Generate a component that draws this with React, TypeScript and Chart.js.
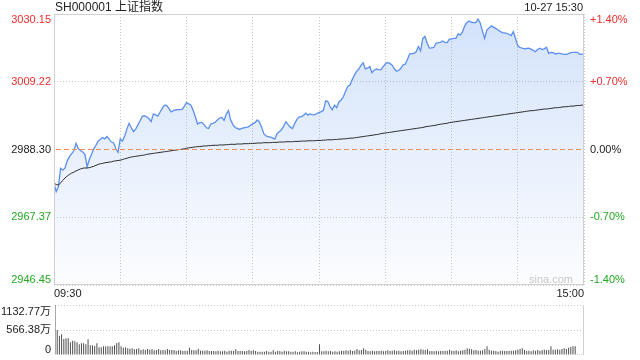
import React, { useEffect, useRef } from 'react';
import { Chart, registerables } from 'chart.js';

Chart.register(...registerables);

const TITLE = 'SH000001 上证指数';
const DATETIME = '10-27 15:30';
const WATERMARK = 'sina.com';
const PREV_CLOSE = 2988.3;
const PRICE_TICKS = [3030.15, 3009.22, 2988.3, 2967.37, 2946.45];
const PRICE_TICK_LABELS = ['3030.15', '3009.22', '2988.30', '2967.37', '2946.45'];
const PCT_TICK_LABELS = ['+1.40%', '+0.70%', '0.00%', '-0.70%', '-1.40%'];
const TIME_TICK_LABELS = ['09:30', '15:00'];
const VOL_TICKS = [1132.77, 566.38, 0];
const VOL_TICK_LABELS = ['1132.77万', '566.38万', '0'];

const PRICE = [
  2977.9, 2975.3, 2976.8, 2982.5, 2981.9, 2982.6, 2984.8, 2986.1, 2987.0, 2987.9,
  2990.2, 2988.6, 2988.0, 2987.5, 2986.8, 2983.0, 2985.2, 2986.8, 2988.5, 2989.6,
  2990.9, 2991.5, 2992.0, 2991.6, 2992.3, 2991.4, 2990.6, 2990.3, 2988.6, 2987.4,
  2991.6, 2990.9, 2992.5, 2994.6, 2996.4, 2995.0, 2993.8, 2994.6, 2995.9, 2997.2,
  2998.6, 2998.7, 2998.4, 2997.8, 2996.9, 2999.3, 2999.0, 2998.6, 2999.8, 3001.0,
  3002.0, 3001.9, 3001.0, 2999.9, 3000.3, 3000.5, 3000.6, 3000.6, 3000.7, 3001.6,
  3002.8, 3002.4, 3002.0, 3000.4, 2998.4, 2996.2, 2996.6, 2996.6, 2996.0, 2995.0,
  2994.8, 2996.2, 2996.4, 2996.7, 2997.4, 2998.0, 2998.2, 2997.3, 2999.2, 3000.3,
  2997.4, 2996.0, 2995.1, 2994.8, 2994.5, 2994.8, 2995.0, 2995.1, 2995.3, 2995.8,
  2996.2, 2996.6, 2997.4, 2996.8, 2995.2, 2993.2, 2992.5, 2992.3, 2992.1, 2991.9,
  2991.5, 2993.2, 2993.8, 2994.4, 2995.5, 2996.9, 2996.0, 2995.2, 2994.8, 2996.3,
  2997.6, 2998.4, 2998.4, 2998.9, 2999.5, 2998.9, 2999.3, 2999.1, 2999.0, 2999.4,
  2999.7, 3000.0, 3000.4, 3003.3, 3003.1, 3001.5, 3000.6, 3002.0, 3001.2, 3003.0,
  3003.6, 3004.5, 3006.2, 3007.8, 3008.2, 3009.8, 3011.2, 3012.4, 3013.1, 3014.3,
  3015.1, 3013.2, 3013.4, 3013.9, 3012.0, 3012.8, 3013.2, 3013.0, 3012.9, 3013.8,
  3014.7, 3015.2, 3014.9, 3014.4, 3013.4, 3012.5, 3012.7, 3013.3, 3014.4, 3014.6,
  3016.0, 3017.8, 3017.9, 3018.0, 3018.5, 3020.1, 3018.8, 3022.6, 3023.2, 3021.1,
  3019.6, 3019.7, 3019.8, 3021.1, 3021.3, 3021.4, 3021.8, 3021.4, 3021.3, 3022.3,
  3022.5, 3022.6, 3022.6, 3024.0, 3023.7, 3024.7, 3026.5, 3027.5, 3028.0, 3027.6,
  3027.5, 3027.5, 3028.6, 3027.4, 3024.9, 3022.6, 3025.2, 3025.8, 3026.5, 3026.1,
  3025.7, 3025.2, 3024.8, 3024.4, 3024.3, 3024.2, 3023.9, 3023.5, 3024.7, 3022.6,
  3020.4, 3019.8, 3019.6, 3019.4, 3019.5, 3019.6, 3019.3, 3018.9, 3018.5, 3019.2,
  3019.6, 3019.2, 3019.4, 3019.9, 3018.0, 3018.3, 3018.2, 3017.8, 3018.0, 3018.0,
  3017.8, 3017.7, 3017.7, 3017.9, 3018.2, 3018.3, 3018.3, 3018.3, 3017.7, 3017.78,
  3017.78,
];

const AVG = [
  2977.9, 2977.5, 2977.3, 2978.0, 2978.8, 2979.5, 2980.1, 2980.6, 2981.0, 2981.3,
  2981.7, 2982.0, 2982.3, 2982.5, 2982.6, 2982.6, 2982.7, 2982.9, 2983.1, 2983.4,
  2983.7, 2983.9, 2984.0, 2984.2, 2984.3, 2984.4, 2984.5, 2984.7, 2984.8, 2984.9,
  2985.0, 2985.2, 2985.4, 2985.6, 2985.8, 2986.0, 2986.1, 2986.2, 2986.3, 2986.4,
  2986.5, 2986.6, 2986.8, 2986.9, 2987.0, 2987.1, 2987.2, 2987.3, 2987.4, 2987.5,
  2987.6, 2987.7, 2987.8, 2987.9, 2988.0, 2988.1, 2988.2, 2988.3, 2988.4, 2988.5,
  2988.7, 2988.8, 2988.9, 2989.0, 2989.1, 2989.2, 2989.2, 2989.3, 2989.4, 2989.4,
  2989.5, 2989.5, 2989.6, 2989.6, 2989.6, 2989.7, 2989.7, 2989.7, 2989.8, 2989.8,
  2989.9, 2989.9, 2989.9, 2990.0, 2990.0, 2990.0, 2990.1, 2990.1, 2990.1, 2990.2,
  2990.2, 2990.2, 2990.3, 2990.3, 2990.3, 2990.4, 2990.4, 2990.4, 2990.4, 2990.5,
  2990.5, 2990.5, 2990.6, 2990.6, 2990.6, 2990.7, 2990.7, 2990.7, 2990.7, 2990.8,
  2990.8, 2990.8, 2990.9, 2990.9, 2990.9, 2991.0, 2991.0, 2991.0, 2991.0, 2991.1,
  2991.1, 2991.1, 2991.2, 2991.2, 2991.3, 2991.3, 2991.3, 2991.4, 2991.4, 2991.5,
  2991.5, 2991.6, 2991.6, 2991.7, 2991.8, 2991.8, 2991.9, 2992.0, 2992.1, 2992.2,
  2992.3, 2992.4, 2992.5, 2992.6, 2992.7, 2992.8, 2992.9, 2993.0, 2993.2, 2993.3,
  2993.4, 2993.5, 2993.6, 2993.7, 2993.8, 2993.9, 2994.0, 2994.1, 2994.2, 2994.3,
  2994.4, 2994.5, 2994.6, 2994.7, 2994.8, 2994.9, 2995.0, 2995.1, 2995.3, 2995.4,
  2995.5, 2995.6, 2995.7, 2995.8, 2996.0, 2996.1, 2996.2, 2996.3, 2996.4, 2996.6,
  2996.7, 2996.8, 2996.9, 2997.0, 2997.1, 2997.2, 2997.3, 2997.4, 2997.5, 2997.6,
  2997.7, 2997.8, 2997.9, 2998.0, 2998.1, 2998.2, 2998.3, 2998.4, 2998.5, 2998.6,
  2998.7, 2998.8, 2998.9, 2999.0, 2999.1, 2999.2, 2999.3, 2999.4, 2999.5, 2999.6,
  2999.7, 2999.8, 2999.9, 3000.0, 3000.1, 3000.2, 3000.3, 3000.3, 3000.4, 3000.5,
  3000.6, 3000.7, 3000.8, 3000.8, 3000.9, 3001.0, 3001.1, 3001.2, 3001.2, 3001.3,
  3001.4, 3001.5, 3001.5, 3001.6, 3001.7, 3001.7, 3001.8, 3001.9, 3001.9, 3002.0,
  3002.0,
];

const VOLUME = [
  1132.77, 566, 438, 468, 362, 378, 378, 287, 325, 310,
  287, 242, 264, 264, 242, 355, 219, 219, 204, 264,
  174, 174, 196, 196, 196, 196, 196, 219, 272, 287,
  196, 166, 174, 151, 144, 151, 128, 136, 151, 113,
  128, 113, 136, 121, 128, 106, 113, 136, 106, 113,
  106, 136, 113, 113, 113, 91, 106, 106, 91, 98,
  98, 166, 113, 106, 106, 144, 98, 98, 98, 106,
  91, 91, 91, 83, 98, 83, 83, 98, 76, 98,
  98, 91, 128, 91, 91, 91, 83, 91, 113, 98,
  106, 91, 76, 76, 76, 76, 91, 76, 76, 106,
  76, 91, 91, 76, 98, 83, 83, 76, 76, 83,
  60, 76, 83, 83, 76, 76, 60, 76, 68, 68,
  242,
  83, 83, 98, 83, 91, 76, 83, 76, 83, 98,
  91, 106, 98, 113, 91, 98, 136, 106, 113, 151,
  121, 91, 83, 98, 83, 91, 91, 98, 83, 91,
  106, 91, 98, 106, 91, 98, 83, 91, 98, 106,
  106, 98, 121, 106, 121, 128, 121, 113, 128, 91,
  91, 83, 91, 83, 91, 91, 98, 98, 121, 98,
  91, 106, 83, 98, 106, 121, 151, 144, 128, 106,
  113, 98, 98, 106, 136, 196, 121, 98, 98, 91,
  76, 91, 98, 91, 91, 98, 98, 98, 106, 121,
  136, 151, 113, 91, 98, 83, 106, 98, 113, 98,
  106, 121, 106, 113, 196, 121, 121, 128, 121, 136,
  151, 136, 166, 181, 196, 196, 8, 8, 8, 400,
];

const FONT = 'Arial, "Liberation Sans", "Noto Sans CJK SC", sans-serif';
const RED = '#f02c2c';
const GREEN = '#22a822';
const NEUTRAL = '#222';

function colorFor(v: number) {
  if (Math.abs(v - PREV_CLOSE) < 0.005) return NEUTRAL;
  return v > PREV_CLOSE ? RED : GREEN;
}

export default function App() {
  const priceRef = useRef<HTMLCanvasElement>(null);
  const volRef = useRef<HTMLCanvasElement>(null);

  useEffect(() => {
    if (!priceRef.current || !volRef.current) return;

    const priceDecor = {
      id: 'priceDecor',
      afterDatasetsDraw(chart: any) {
        const { ctx, chartArea: a, scales } = chart;
        const yp = Math.round(scales.y.getPixelForValue(PREV_CLOSE)) + 0.5;
        ctx.save();
        ctx.globalAlpha = 1;
        ctx.globalCompositeOperation = 'source-over';
        ctx.strokeStyle = 'rgb(245,140,90)';
        ctx.lineWidth = 1;
        ctx.setLineDash([5, 3]);
        ctx.beginPath();
        ctx.moveTo(a.left + 2, yp);
        ctx.lineTo(a.right - 2, yp);
        ctx.stroke();
        ctx.restore();
      },
      afterDraw(chart: any) {
        const { ctx, chartArea: a, scales } = chart;
        ctx.save();
        ctx.strokeStyle = '#d0d0d0';
        ctx.lineWidth = 1;
        ctx.strokeRect(Math.round(a.left) + 0.5, Math.round(a.top) + 0.5,
          Math.round(a.right - a.left) - 1, Math.round(a.bottom - a.top) - 1);

        ctx.font = '11px ' + FONT;
        PRICE_TICKS.forEach((v, k) => {
          let y = scales.y.getPixelForValue(v);
          let base: CanvasTextBaseline = 'middle';
          if (k === 0) { base = 'top'; y = a.top; }
          if (k === PRICE_TICKS.length - 1) { base = 'bottom'; y = a.bottom; }
          ctx.textBaseline = base;
          ctx.fillStyle = colorFor(v);
          ctx.textAlign = 'right';
          ctx.fillText(PRICE_TICK_LABELS[k], a.left - 3, y);
          ctx.textAlign = 'left';
          ctx.fillText(PCT_TICK_LABELS[k], a.right + 6, y);
        });

        ctx.fillStyle = NEUTRAL;
        ctx.textBaseline = 'middle';
        ctx.textAlign = 'left';
        ctx.fillText(TIME_TICK_LABELS[0], a.left, a.bottom + 9);
        ctx.textAlign = 'right';
        ctx.fillText(TIME_TICK_LABELS[1], a.right, a.bottom + 9);

        ctx.fillText(DATETIME, a.right - 1, 8);
        ctx.font = '12px ' + FONT;
        ctx.textAlign = 'left';
        ctx.fillText(TITLE, a.left + 1, 8);

        ctx.font = '11px ' + FONT;
        ctx.fillStyle = '#c8c8c8';
        ctx.textAlign = 'right';
        ctx.textBaseline = 'middle';
        ctx.fillText(WATERMARK, a.right - 11, a.bottom - 5);
        ctx.restore();
      },
    };

    const priceChart = new Chart(priceRef.current, {
      type: 'line',
      data: {
        datasets: [
          {
            data: AVG.map((v, i) => ({ x: i, y: v })),
            borderColor: '#2b2b2b',
            borderWidth: 1,
            pointRadius: 0,
            fill: false,
            order: 1,
          },
          {
            data: PRICE.map((v, i) => ({ x: i, y: v })),
            borderColor: '#5a8ff0',
            borderWidth: 1.3,
            pointRadius: 0,
            fill: 'start',
            order: 2,
            backgroundColor: (ctx: any) => {
              const { chart } = ctx;
              const a = chart.chartArea;
              if (!a) return 'rgba(80,140,235,0.15)';
              const g = chart.ctx.createLinearGradient(0, a.top, 0, a.bottom);
              g.addColorStop(0, 'rgba(80,140,235,0.25)');
              g.addColorStop(1, 'rgba(80,140,235,0.02)');
              return g;
            },
          },
        ],
      },
      options: {
        responsive: false,
        animation: false,
        events: [],
        layout: { padding: { left: 54, right: 56, top: 14, bottom: 75 } },
        plugins: {
          legend: { display: false },
          tooltip: { enabled: false },
          filler: { drawTime: 'beforeDatasetsDraw' },
        },
        scales: {
          x: {
            type: 'linear',
            min: 0,
            max: 240,
            offset: false,
            ticks: { display: false, stepSize: 30 },
            grid: { color: '#c8c8c8', drawTicks: false },
            border: { display: false, dash: [1, 2] },
            afterFit: (s: any) => { s.height = 0; },
          },
          y: {
            min: 2946.45,
            max: 3030.15,
            afterBuildTicks: (s: any) => { s.ticks = PRICE_TICKS.map((v) => ({ value: v })); },
            ticks: { display: false },
            grid: {
              drawTicks: false,
              color: (c: any) => (c.tick && Math.abs(c.tick.value - PREV_CLOSE) < 0.005 ? 'rgba(0,0,0,0)' : '#c8c8c8'),
            },
            border: { display: false, dash: [1, 2] },
            afterFit: (s: any) => { s.width = 0; },
          },
        },
      },
      plugins: [priceDecor],
    } as any);

    const volDecor = {
      id: 'volDecor',
      afterDraw(chart: any) {
        const { ctx, chartArea: a, scales } = chart;
        ctx.save();
        ctx.strokeStyle = '#d0d0d0';
        ctx.lineWidth = 1;
        ctx.beginPath();
        ctx.moveTo(Math.round(a.right) - 0.5, a.top);
        ctx.lineTo(Math.round(a.right) - 0.5, a.bottom);
        ctx.stroke();
        ctx.font = '11px ' + FONT;
        ctx.fillStyle = NEUTRAL;
        ctx.textAlign = 'right';
        VOL_TICKS.forEach((v, k) => {
          let y = scales.y.getPixelForValue(v);
          let base: CanvasTextBaseline = 'middle';
          if (k === 0) { base = 'top'; y = a.top + 1; }
          if (k === VOL_TICKS.length - 1) { base = 'bottom'; y = a.bottom; }
          ctx.textBaseline = base;
          ctx.fillText(VOL_TICK_LABELS[k], a.left - 4, y);
        });
        ctx.restore();
      },
    };

    const volChart = new Chart(volRef.current, {
      type: 'bar',
      data: {
        datasets: [
          {
            data: VOLUME.map((v, i) => ({ x: i, y: v })),
            backgroundColor: '#505050',
            barThickness: 1,
            inflateAmount: 0,
            borderWidth: 0,
          },
        ],
      },
      options: {
        responsive: false,
        animation: false,
        events: [],
        layout: { padding: { left: 55, right: 56, top: 305, bottom: 5 } },
        plugins: { legend: { display: false }, tooltip: { enabled: false } },
        scales: {
          x: {
            type: 'linear',
            min: 0,
            max: 240,
            offset: false,
            ticks: { display: false },
            grid: { display: false, offset: false },
            border: { display: false },
            afterFit: (s: any) => { s.height = 0; },
          },
          y: {
            min: 0,
            max: 1132.77,
            afterBuildTicks: (s: any) => { s.ticks = VOL_TICKS.map((v) => ({ value: v })); },
            ticks: { display: false },
            grid: {
              drawTicks: false,
              color: (c: any) => (c.tick && c.tick.value === 0 ? 'rgba(0,0,0,0)' : '#c8c8c8'),
            },
            border: { display: false, dash: [1, 2] },
            afterFit: (s: any) => { s.width = 0; },
          },
        },
      },
      plugins: [volDecor],
    } as any);

    return () => {
      priceChart.destroy();
      volChart.destroy();
    };
  }, []);

  return (
    <div style={{ position: 'fixed', left: 0, top: 0, width: 640, height: 360, background: '#fff' }}>
      <canvas ref={priceRef} width={640} height={360} style={{ position: 'absolute', left: 0, top: 0 }} />
      <canvas ref={volRef} width={640} height={360} style={{ position: 'absolute', left: 0, top: 0 }} />
    </div>
  );
}
